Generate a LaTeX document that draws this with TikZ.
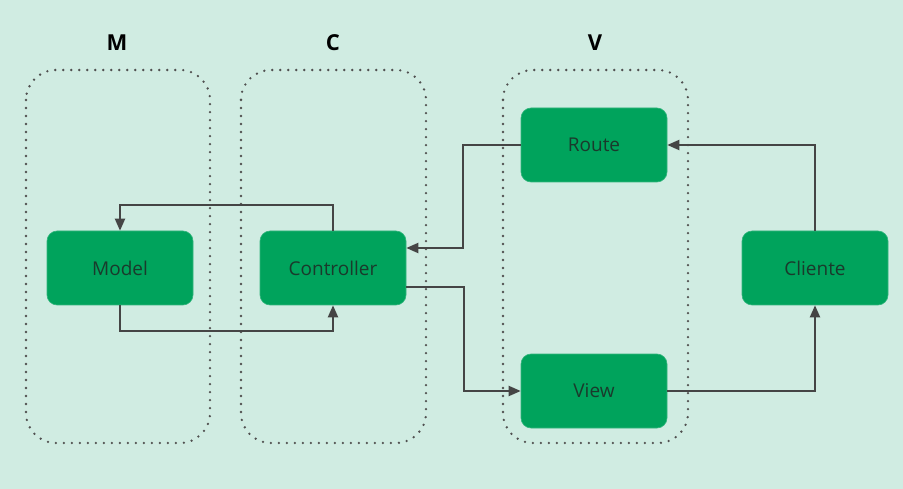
\documentclass[tikz,border=0pt]{standalone}
\usepackage{fontspec}
\setmainfont{Open Sans}
\usetikzlibrary{arrows.meta}
\definecolor{bgmint}{HTML}{D0ECE2}
\definecolor{boxgreen}{HTML}{00A35C}
\definecolor{boxtext}{HTML}{1A3A2C}
\definecolor{wire}{HTML}{454545}
\definecolor{dotgray}{HTML}{505050}
\tikzset{
  comp/.style={fill=boxgreen, draw=boxgreen!80!white, line width=0.6pt, rounded corners=10pt,
    minimum width=146pt, minimum height=74pt, inner sep=0pt,
    text=boxtext, font=\fontsize{19}{22}\selectfont},
  group/.style={draw=dotgray, line width=2.6pt, line cap=round,
    dash pattern=on 0pt off 8pt, rounded corners=30pt},
  title/.style={font=\fontsize{22}{26}\selectfont\bfseries, text=black},
  link/.style={draw=wire, line width=2pt, -{Triangle[length=12pt,width=10pt]}},
}
\begin{document}
\begin{tikzpicture}[x=1pt,y=-1pt]
  \fill[bgmint] (0,0) rectangle (903,489);
  \useasboundingbox (0,0) rectangle (903,489);

  % layer groups
  \draw[group] (26,70) rectangle (210,443);
  \draw[group] (241,70) rectangle (426,443);
  \draw[group] (503,70) rectangle (688,443);
  \node[title] (tm) at (117,43) {M};
  \node[title] (tc) at (333,43) {C};
  \node[title] (tv) at (595,43) {V};

  % components
  \node[comp] (model) at (120,268) {Model};
  \node[comp] (ctrl) at (333,268) {Controller};
  \node[comp] (route) at (594,145) {Route};
  \node[comp] (view) at (594,391) {View};
  \node[comp] (client) at (815,268) {Cliente};

  % connections
  \draw[link] (ctrl.north) -- ++(0,-26) -| (model.north);
  \draw[link] (model.south) -- ++(0,26) -| (ctrl.south);
  \draw[link] (route.west) -- ++(-58,0) |- ([yshift=20pt]ctrl.east);
  \draw[link] ([yshift=-19pt]ctrl.east) -- ++(58,0) |- (view.west);
  \draw[link] (view.east) -| (client.south);
  \draw[link] (client.north) |- (route.east);
\end{tikzpicture}
\end{document}
